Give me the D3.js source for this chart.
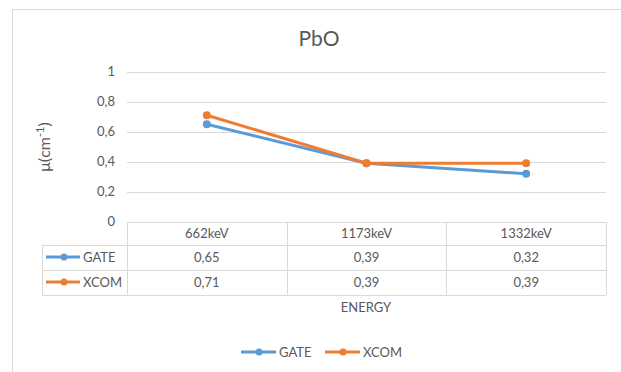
<!DOCTYPE html>
<html><head><meta charset="utf-8">
<script src="https://cdn.jsdelivr.net/npm/d3@7"></script>
<style>body{margin:0;background:#fff}svg{display:block}text{font-family:Lato,"Open Sans",sans-serif;fill:#595959}</style>
</head><body><svg id="c" width="621" height="372"></svg>
<script>
const categories = ["662keV", "1173keV", "1332keV"];
const gate = [0.65, 0.39, 0.32];
const xcom = [0.71, 0.39, 0.39];
const yTicks = [0, 0.2, 0.4, 0.6, 0.8, 1];
const seriesNames = ["GATE", "XCOM"];
const colors = ["#5B9BD5", "#ED7D31"];
const series = [gate, xcom];

const svg = d3.select("#c");
const loc = d3.formatLocale({decimal: ",", thousands: ".", grouping: [3], currency: ["", ""]});
const tickFmt = v => loc.format("~g")(v);
const valFmt = loc.format(".2f");

// outer chart border
svg.append("path").attr("d", "M12.5,372V9.5H621").attr("fill", "none").attr("stroke", "#d9d9d9");

const x = d3.scaleBand().domain(categories).range([127, 606]);
const y = d3.scaleLinear().domain([0, 1]).range([221.7, 71.7]);

// title
svg.append("text").attr("x", 319).attr("y", 46).attr("text-anchor", "middle")
  .style("font-size", "21px").text("PbO");

// grid
svg.append("g").selectAll("line").data(yTicks).join("line")
  .attr("x1", 127).attr("x2", 606)
  .attr("y1", d => Math.round(y(d)) + 0.5).attr("y2", d => Math.round(y(d)) + 0.5)
  .attr("stroke", "#d9d9d9");

// y axis labels
const ya = svg.append("g").attr("transform", "translate(127,0)")
  .call(d3.axisLeft(y).tickValues(yTicks).tickFormat(tickFmt).tickSize(0).tickPadding(12));
ya.select(".domain").remove();
ya.selectAll("text").style("font-size", "13px").attr("fill", "#595959").style("font-family", "Lato,sans-serif");

// y title
const yt = svg.append("text").attr("transform", "translate(50,147) rotate(-90)")
  .attr("text-anchor", "middle").style("font-size", "16px");
yt.append("tspan").text("μ(cm");
yt.append("tspan").attr("baseline-shift", "super").style("font-size", "11px").text("-1");
yt.append("tspan").text(")");

// table
const rowY = [221.7, 244.5, 270, 294.5];
const tbl = svg.append("g").attr("stroke", "#d9d9d9").attr("fill", "none");
[1, 2, 3].forEach(i => tbl.append("line").attr("x1", 42).attr("x2", 606)
  .attr("y1", Math.round(rowY[i]) + 0.5).attr("y2", Math.round(rowY[i]) + 0.5));
tbl.append("line").attr("x1", 42.5).attr("x2", 42.5).attr("y1", 244.5).attr("y2", 294.5);
const edges = categories.map(c => x(c)).concat([x.range()[1]]);
tbl.selectAll(".v").data(edges).join("line")
  .attr("x1", d => Math.round(d) + 0.5).attr("x2", d => Math.round(d) + 0.5)
  .attr("y1", 222).attr("y2", 294.5);

svg.append("g").selectAll("text").data(categories).join("text")
  .attr("x", d => x(d) + x.bandwidth() / 2).attr("y", 233).attr("dy", "0.35em")
  .attr("text-anchor", "middle").style("font-size", "13px").text(d => d);

const rowMid = [257, 282];
series.forEach((s, i) => {
  svg.append("g").selectAll("text").data(s).join("text")
    .attr("x", (d, j) => x(categories[j]) + x.bandwidth() / 2).attr("y", rowMid[i]).attr("dy", "0.35em")
    .attr("text-anchor", "middle").style("font-size", "13px").text(d => valFmt(d));
  svg.append("line").attr("x1", 46).attr("x2", 80).attr("y1", rowMid[i]).attr("y2", rowMid[i])
    .attr("stroke", colors[i]).attr("stroke-width", 3);
  svg.append("circle").attr("cx", 64).attr("cy", rowMid[i]).attr("r", 3.5).attr("fill", colors[i]);
  svg.append("text").attr("x", 83).attr("y", rowMid[i]).attr("dy", "0.35em").style("font-size", "13px").text(seriesNames[i]);
});

// lines
const line = d3.line().x((d, j) => x(categories[j]) + x.bandwidth() / 2).y(d => y(d));
series.forEach((s, i) => {
  svg.append("path").datum(s).attr("d", line).attr("fill", "none")
    .attr("stroke", colors[i]).attr("stroke-width", 3).attr("stroke-linejoin", "round").attr("stroke-linecap", "round");
  svg.append("g").selectAll("circle").data(s).join("circle")
    .attr("cx", (d, j) => x(categories[j]) + x.bandwidth() / 2).attr("cy", d => y(d))
    .attr("r", 4).attr("fill", colors[i]);
});

// x title
svg.append("text").attr("x", 366).attr("y", 307.5).attr("dy", "0.35em").attr("text-anchor", "middle")
  .style("font-size", "13px").text("ENERGY");

// legend
const legX = [241, 325];
seriesNames.forEach((n, i) => {
  const g = svg.append("g").attr("transform", `translate(${legX[i]},352)`);
  g.append("line").attr("x1", 0).attr("x2", 35).attr("stroke", colors[i]).attr("stroke-width", 3);
  g.append("circle").attr("cx", 18).attr("r", 3.5).attr("fill", colors[i]);
  g.append("text").attr("x", 38).attr("dy", "0.35em").style("font-size", "13px").text(n);
});
</script></body></html>
